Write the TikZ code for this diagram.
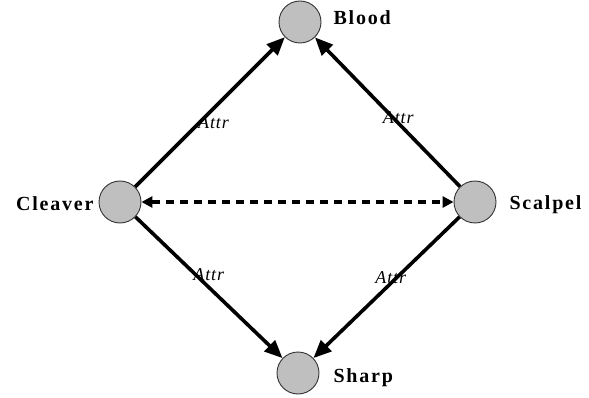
\documentclass[tikz,border=0pt]{standalone}
\usepackage{fontspec}
\setmainfont{Liberation Serif}
\usetikzlibrary{arrows.meta}
\begin{document}
\begin{tikzpicture}[x=1pt,y=-1pt,
  vert/.style={circle,draw=black!80,line width=0.9pt,fill=black!25,minimum size=42pt,inner sep=0pt},
  lbl/.style={font=\fontsize{20}{20}\selectfont\bfseries\addfontfeature{LetterSpace=9}},
  rel/.style={line width=3.6pt,-{Triangle[length=18pt,width=15pt]}},
  attr/.style={font=\fontsize{18}{18}\selectfont\itshape\addfontfeature{LetterSpace=5}}]
\useasboundingbox (0,0) rectangle (589,398);
\node[vert] (blood) at (300,22) {};
\node[vert] (cleaver) at (120,202) {};
\node[vert] (scalpel) at (475,202) {};
\node[vert] (sharp) at (298,373) {};
\node[lbl,anchor=west] (tblood) at (330,18) {Blood};
\node[lbl,anchor=east] (tcleaver) at (97,204) {Cleaver};
\node[lbl,anchor=west] (tscalpel) at (506,205) {Scalpel};
\node[lbl,anchor=west] (tsharp) at (330,378) {Sharp};
\draw[rel] (cleaver) -- (blood) node[attr,pos=0.43,xshift=14pt] (a1) {Attr};
\draw[rel] (scalpel) -- (blood) node[attr,pos=0.46,xshift=5pt] (a2) {Attr};
\draw[rel] (cleaver) -- (sharp) node[attr,pos=0.41,xshift=13pt] (a3) {Attr};
\draw[rel] (scalpel) -- (sharp) node[attr,pos=0.43,xshift=-6pt] (a4) {Attr};
\draw[line width=3.4pt,dash pattern=on 8pt off 6pt,{Triangle[length=11pt,width=11pt]}-{Triangle[length=11pt,width=11pt]}] (cleaver) -- (scalpel);
\end{tikzpicture}
\end{document}
